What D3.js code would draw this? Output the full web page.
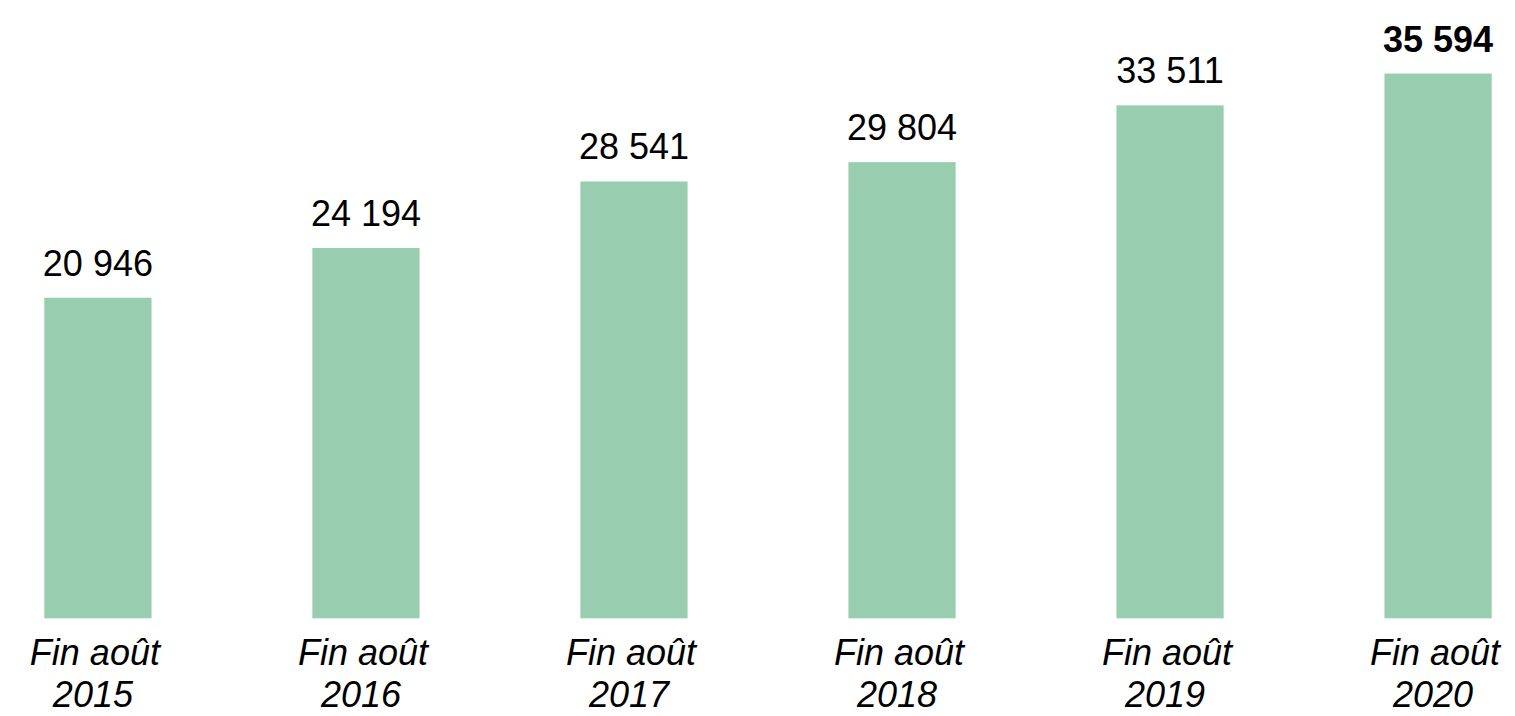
<!DOCTYPE html>
<html>
<head>
<meta charset="utf-8">
<script src="https://cdn.jsdelivr.net/npm/d3@7"></script>
<style>
  html, body { margin: 0; padding: 0; background: #fff; }
  svg text { font-family: "Liberation Sans", Arial, sans-serif; fill: #000; }
</style>
</head>
<body>
<div id="chart"></div>
<script>
  // ===================== DATA =====================
  const categories = ["2015", "2016", "2017", "2018", "2019", "2020"];
  const lineOne = "Fin août";
  const values = [20946, 24194, 28541, 29804, 33511, 35594];
  const highlighted = "2020";

  // ===================== CHART =====================
  const width = 1515, height = 716;
  const svg = d3.select("#chart").append("svg")
    .attr("width", width)
    .attr("height", height);

  const x = d3.scaleBand()
    .domain(categories)
    .range([44.3, 1491.7])
    .paddingInner(0.6)
    .paddingOuter(0);

  const y = d3.scaleLinear()
    .domain([0, 40000])
    .range([618.3, 6.1]);

  const fmt = v => d3.format(",")(v).replace(/,/g, " ");

  const rows = categories.map((c, i) => ({ cat: c, value: values[i] }));

  // Bars
  svg.selectAll("rect.bar")
    .data(rows)
    .enter()
    .append("rect")
    .attr("class", "bar")
    .attr("x", d => x(d.cat))
    .attr("y", d => y(d.value))
    .attr("width", x.bandwidth())
    .attr("height", d => y(0) - y(d.value))
    .attr("fill", "#99cdb0");

  // Value labels
  svg.selectAll("text.value")
    .data(rows)
    .enter()
    .append("text")
    .attr("class", "value")
    .attr("x", d => x(d.cat) + x.bandwidth() / 2)
    .attr("y", d => y(d.value) - 22)
    .attr("text-anchor", "middle")
    .attr("font-size", 36)
    .attr("font-weight", d => d.cat === highlighted ? "bold" : "normal")
    .text(d => fmt(d.value));

  // Category labels (two lines, italic)
  const cx = d => x(d) + x.bandwidth() / 2;

  svg.selectAll("text.cat1")
    .data(categories)
    .enter()
    .append("text")
    .attr("class", "cat1")
    .attr("x", d => cx(d) - 3)
    .attr("y", 665)
    .attr("text-anchor", "middle")
    .attr("font-size", 36)
    .attr("font-style", "italic")
    .text(lineOne);

  svg.selectAll("text.cat2")
    .data(categories)
    .enter()
    .append("text")
    .attr("class", "cat2")
    .attr("x", d => cx(d) - 5)
    .attr("y", 707)
    .attr("text-anchor", "middle")
    .attr("font-size", 36)
    .attr("font-style", "italic")
    .text(d => d);
</script>
</body>
</html>
